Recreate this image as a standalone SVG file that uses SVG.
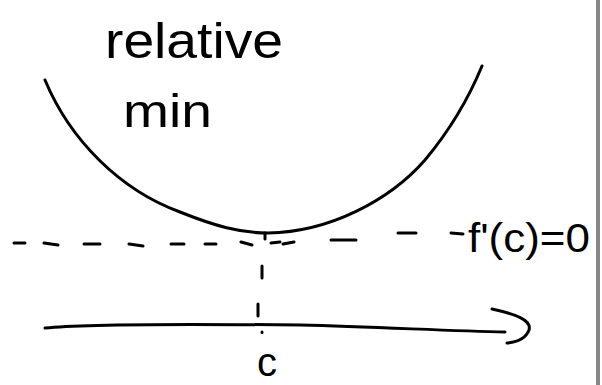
<svg xmlns="http://www.w3.org/2000/svg" width="602" height="385" viewBox="0 0 602 385">
<style>
.ink{fill:none;stroke:#000;stroke-width:3;stroke-linecap:round;stroke-linejoin:round}
.lbl{font-family:"Liberation Sans","DejaVu Sans",sans-serif;fill:#000}
</style>
<rect x="0" y="0" width="602" height="385" fill="#fff"/>
<rect x="596" y="0" width="4" height="385" fill="#888"/>
<g id="curve">
<path class="ink" d="M45,80 C70,140 120,190 180,212 C215,226 240,233 268,233 C330,232 390,200 425,160 C450,130 468,100 482,66"/>
</g>
<g id="connectors">
<path class="ink" d="M14,243 L25,243 M44,243 L58,245 M84,244 L100,244 M129,244 L143,246 M171,244 L184,244 M205,244 L216,244 M241,242 L252,245 M271,243 L280,242 M283,244 L294,242 M331,240 L356,240 M398,233 L416,233 M451,233 L463,234"/>
<path class="ink" d="M265,233 L265,239 M262,266 L262,278 M258,304 L258,316 M262,332 L262,332.5"/>
<path class="ink" d="M45,328 C80,324 200,324 300,325 C380,327 450,331 505,332"/>
<path class="ink" d="M492,309 C515,314 532,320 529,330 C526,338 518,342 507,343"/>
</g>
<g id="label-relative-min">
<text class="lbl" x="105" y="58" font-size="50" textLength="178" lengthAdjust="spacingAndGlyphs">relative</text>
<text class="lbl" x="123" y="127" font-size="46" textLength="89" lengthAdjust="spacingAndGlyphs">min</text>
</g>
<g id="label-fprime">
<text class="lbl" x="468" y="252" font-size="40" textLength="122" lengthAdjust="spacingAndGlyphs">f'(c)=0</text>
</g>
<g id="label-c">
<text class="lbl" x="257" y="376" font-size="40">c</text>
</g>
</svg>
